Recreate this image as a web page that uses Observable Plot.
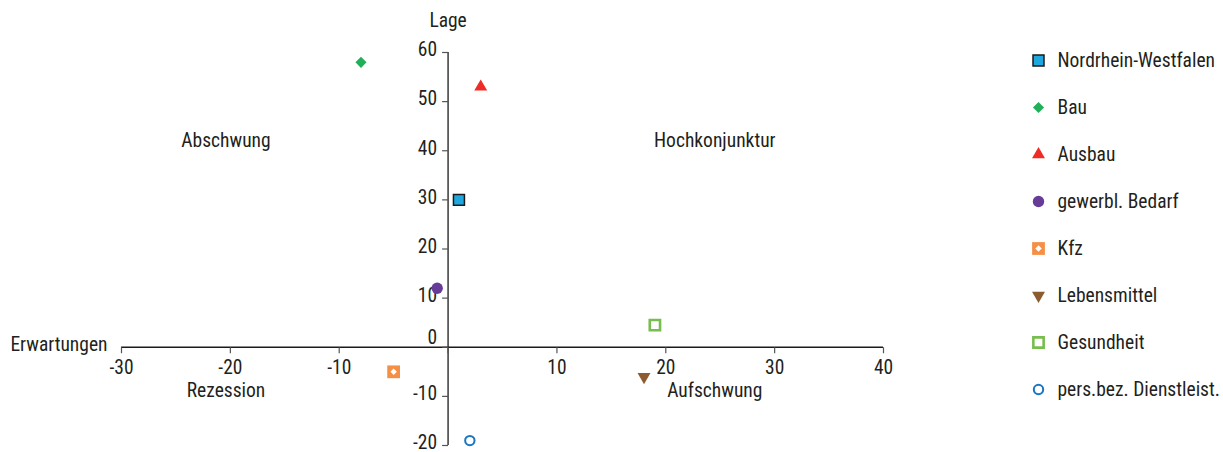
<!DOCTYPE html>
<html><head><meta charset="utf-8">
<script src="https://cdn.jsdelivr.net/npm/d3@7"></script>
<script src="https://cdn.jsdelivr.net/npm/@observablehq/plot@0.6"></script>
<style>
html,body{margin:0;padding:0;background:#fff;}
#chart{position:relative;width:1223px;height:452px;overflow:hidden;}
#chart svg{position:absolute;top:0;overflow:visible;}
</style></head><body><div id="chart"></div>
<script>
// ---- data ----
const series = ["Nordrhein-Westfalen","Bau","Ausbau","gewerbl. Bedarf","Kfz","Lebensmittel","Gesundheit","pers.bez. Dienstleist."];
const erwartungen = [1, -8, 3, -1, -5, 18, 19, 2];
const lage = [30, 58, 53, 12, -5, -6, 4.5, -19];
const xTicks = [-30, -20, -10, 0, 10, 20, 30, 40];
const xTickLabels = ["-30", "-20", "-10", "", "10", "20", "30", "40"];
const yTicks = [-20, -10, 0, 10, 20, 30, 40, 50, 60];
const yTickLabels = ["-20", "-10", "0", "10", "20", "30", "40", "50", "60"];
const quadrantNames = ["Abschwung", "Hochkonjunktur", "Rezession", "Aufschwung"];
const quadrantX = [-20.4, 24.5, -20.4, 24.5];
const quadrantY = [42, 42, -8.9, -8.9];
const xLabel = "Erwartungen";
const yLabel = "Lage";

// ---- styles ----
const downTriangle = {draw(ctx, size){ const y = -Math.sqrt(size / (Math.sqrt(3) * 3)); ctx.moveTo(0, -2 * y); ctx.lineTo(Math.sqrt(3) * y, y); ctx.lineTo(-Math.sqrt(3) * y, y); ctx.closePath(); }};
const tickLeft = {draw(ctx){ ctx.moveTo(0, 0); ctx.lineTo(-6, 0); }};
const tickDown = {draw(ctx){ ctx.moveTo(0, 0); ctx.lineTo(0, 6); }};
const styles = {
  "Nordrhein-Westfalen": [{symbol: "square", fill: "#1FA8E0", stroke: "#1a1a1a", strokeWidth: 1.5, r: 6.2}],
  "Bau": [{symbol: "diamond2", fill: "#21AF5A", stroke: "none", r: 5}],
  "Ausbau": [{symbol: "triangle", fill: "#EE2B24", stroke: "none", r: 4.8}],
  "gewerbl. Bedarf": [{symbol: "circle", fill: "#673B98", stroke: "none", r: 5.7}],
  "Kfz": [{symbol: "square", fill: "#F58F45", stroke: "none", r: 7.2}, {symbol: "diamond2", fill: "#ffffff", stroke: "none", r: 2.9}],
  "Lebensmittel": [{symbol: downTriangle, fill: "#8C5B2E", stroke: "none", r: 4.8}],
  "Gesundheit": [{symbol: "square", fill: "#ffffff", stroke: "#78BE4E", strokeWidth: 2.6, r: 5.8}],
  "pers.bez. Dienstleist.": [{symbol: "circle", fill: "#ffffff", stroke: "#1A75C2", strokeWidth: 2, r: 4.7}]
};
const FONT = '"Liberation Sans Narrow", "Roboto Condensed", "Liberation Sans", Arial, sans-serif';
const TEXT = "#231f20";
const FS = 19.5;

const rows = series.map((name, i) => ({name, x: erwartungen[i], y: lage[i]}));
const yTickRows = yTicks.map((v, i) => ({v, label: yTickLabels[i]}));
const xTickRows = xTicks.map((v, i) => ({v, label: xTickLabels[i]}));
const quadRows = quadrantNames.map((t, i) => ({t, x: quadrantX[i], y: quadrantY[i]}));

const pointMarks = series.flatMap(name => styles[name].map(s =>
  Plot.dot(rows, {filter: d => d.name === name, x: "x", y: "y", ...s})
));

const main = Plot.plot({
  width: 1223, height: 452,
  marginLeft: 121, marginRight: 340, marginTop: 52, marginBottom: 7,
  x: {domain: [-30, 40], axis: null},
  y: {domain: [-20, 60], axis: null},
  style: {fontFamily: FONT, fontSize: FS + "px", color: TEXT, background: "white", overflow: "visible"},
  marks: [
    Plot.ruleX([0], {stroke: "#1a1a1a", strokeWidth: 1.3}),
    Plot.ruleY([0], {stroke: "#1a1a1a", strokeWidth: 1.3}),
    Plot.dot(yTickRows, {x: 0, y: "v", symbol: tickLeft, r: 3, fill: "none", stroke: "#555", strokeWidth: 1.2}),
    Plot.dot(xTickRows, {x: "v", y: 0, symbol: tickDown, r: 3, fill: "none", stroke: "#555", strokeWidth: 1.2}),
    Plot.text(yTickRows, {filter: d => d.v !== 0, x: 0, y: "v", text: "label", dx: -11, dy: -2.5, textAnchor: "end", fill: TEXT, fontSize: FS}),
    Plot.text(yTickRows, {filter: d => d.v === 0, x: 0, y: "v", text: "label", dx: -11, dy: -10, textAnchor: "end", fill: TEXT, fontSize: FS}),
    Plot.text(xTickRows, {x: "v", y: 0, text: "label", dy: 20, fill: TEXT, fontSize: FS}),
    Plot.text([yLabel], {x: 0, frameAnchor: "top", lineAnchor: "middle", dy: -32, text: d => d, fill: TEXT, fontSize: FS}),
    Plot.text([xLabel], {y: 0, frameAnchor: "left", lineAnchor: "middle", dx: -14, dy: -3, textAnchor: "end", text: d => d, fill: TEXT, fontSize: FS}),
    Plot.text(quadRows, {x: "x", y: "y", text: "t", fill: TEXT, fontSize: FS}),
    ...pointMarks
  ]
});
main.style.left = "0px";
document.getElementById("chart").appendChild(main);

// ---- legend ----
const legendRows = series.map(name => ({name}));
const legendMarks = series.flatMap(name => styles[name].map(s =>
  Plot.dot(legendRows, {filter: d => d.name === name, x: 0, y: "name", ...s})
));
const legend = Plot.plot({
  width: 223, height: 452,
  margin: 0,
  x: {domain: [0, 1], range: [38, 223], axis: null},
  y: {type: "point", domain: series, range: [58, 390], padding: 0, axis: null},
  style: {fontFamily: FONT, fontSize: FS + "px", color: TEXT, background: "white", overflow: "visible"},
  marks: [
    ...legendMarks,
    Plot.text(legendRows, {x: 0, y: "name", text: "name", dx: 19, textAnchor: "start", fill: TEXT, fontSize: FS})
  ]
});
legend.style.left = "1000px";
document.getElementById("chart").appendChild(legend);
</script>
</body></html>
